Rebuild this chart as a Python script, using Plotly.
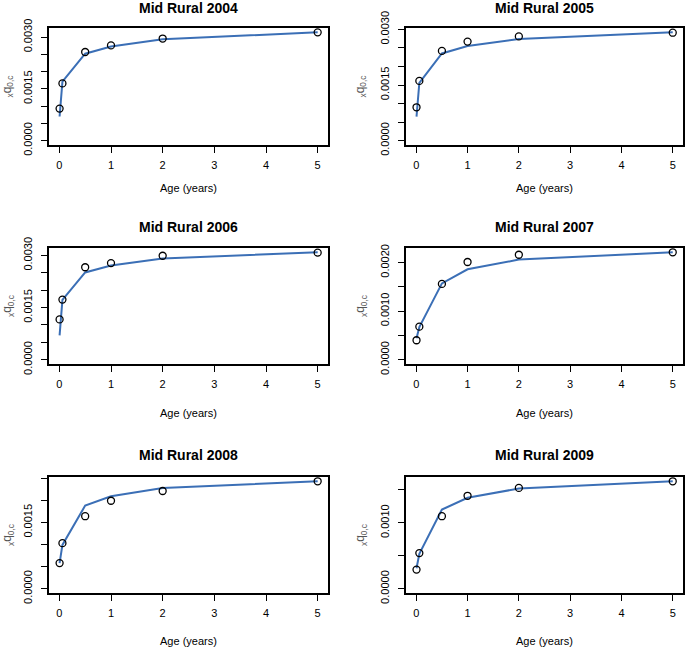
import plotly.graph_objects as go

# ---- data ----
years = ["2004", "2005", "2006", "2007", "2008", "2009"]
age = [0.005, 0.06, 0.5, 1, 2, 5]

obs_2004 = [0.00093, 0.00166, 0.00257, 0.00276, 0.00296, 0.00314]
fit_2004 = [0.00070, 0.00171, 0.00252, 0.00273, 0.00294, 0.00314]
obs_2005 = [0.00090, 0.00161, 0.00242, 0.00267, 0.00281, 0.00291]
fit_2005 = [0.00065, 0.00156, 0.00235, 0.00255, 0.00274, 0.00292]
obs_2006 = [0.00116, 0.00173, 0.00266, 0.00278, 0.00299, 0.00308]
fit_2006 = [0.00070, 0.00172, 0.00251, 0.00271, 0.00291, 0.00309]
obs_2007 = [0.00040, 0.00068, 0.00156, 0.00201, 0.00216, 0.00221]
fit_2007 = [0.00044, 0.00067, 0.00157, 0.00186, 0.00206, 0.00221]
obs_2008 = [0.00058, 0.00103, 0.00164, 0.00199, 0.00221, 0.00243]
fit_2008 = [0.00058, 0.00099, 0.00188, 0.00209, 0.00228, 0.00243]
obs_2009 = [0.00029, 0.00054, 0.00110, 0.00141, 0.00153, 0.00163]
fit_2009 = [0.00031, 0.00053, 0.00120, 0.00138, 0.00152, 0.00163]

observed = [obs_2004, obs_2005, obs_2006, obs_2007, obs_2008, obs_2009]
fitted = [fit_2004, fit_2005, fit_2006, fit_2007, fit_2008, fit_2009]

x_tickvals = [0, 1, 2, 3, 4, 5]
# all tick marks on each y axis
y_ticks_all = [
    [0, 0.0005, 0.0010, 0.0015, 0.0020, 0.0025, 0.0030],
    [0, 0.0005, 0.0010, 0.0015, 0.0020, 0.0025, 0.0030],
    [0, 0.0005, 0.0010, 0.0015, 0.0020, 0.0025, 0.0030],
    [0, 0.0005, 0.0010, 0.0015, 0.0020],
    [0, 0.0005, 0.0010, 0.0015, 0.0020, 0.0025],
    [0, 0.0005, 0.0010, 0.0015],
]
# the ticks that carry a label
y_ticks_labelled = [
    [0, 0.0015, 0.0030],
    [0, 0.0015, 0.0030],
    [0, 0.0015, 0.0030],
    [0, 0.0010, 0.0020],
    [0, 0.0015],
    [0, 0.0010],
]

# ---- layout geometry (pixels) ----
W, H = 685, 648
col_px = [(49, 328), (406, 683)]
row_px = [(28, 145), (248, 364), (477, 593)]
title_y = [8, 227, 455]
xlab_y = [188, 413, 641]
ylab_x = [8, 361]

FONT = "Liberation Sans, Arial, Helvetica, sans-serif"
LINE_COLOR = "#3b6fb6"

fig = go.Figure()
annotations = []

for i, yr in enumerate(years):
    r, c = divmod(i, 2)
    n = i + 1
    xa = "x" if n == 1 else f"x{n}"
    ya = "y" if n == 1 else f"y{n}"
    fig.add_trace(go.Scatter(
        x=age, y=fitted[i], xaxis=xa, yaxis=ya, mode="lines",
        line=dict(color=LINE_COLOR, width=2), showlegend=False, hoverinfo="skip",
        cliponaxis=False))
    fig.add_trace(go.Scatter(
        x=age, y=observed[i], xaxis=xa, yaxis=ya, mode="markers",
        marker=dict(symbol="circle-open", size=7, color="black", line=dict(width=1.3, color="black")),
        showlegend=False, cliponaxis=False))

    M = max(max(observed[i]), max(fitted[i]))
    x0, x1 = col_px[c]
    y0, y1 = row_px[r]
    axis_common = dict(showgrid=False, zeroline=False, showline=True, mirror=True,
                       linecolor="black", linewidth=1.5, ticks="outside", ticklen=6,
                       tickwidth=1.2, tickcolor="black", automargin=False,
                       tickfont=dict(family=FONT, size=11, color="black"))
    fig.layout[f"xaxis{n if n > 1 else ''}"] = dict(
        domain=[x0 / W, x1 / W], anchor=ya, range=[-0.2, 5.2], ticklabelstandoff=3,
        tickvals=x_tickvals, ticktext=[str(v) for v in x_tickvals], **axis_common)
    minor_vals = [v for v in y_ticks_all[i] if v not in y_ticks_labelled[i]]
    fig.layout[f"yaxis{n if n > 1 else ''}"] = dict(
        domain=[1 - y1 / H, 1 - y0 / H], anchor=xa, range=[-0.04 * M, 1.04 * M],
        ticklabelstandoff=5,
        tickvals=y_ticks_labelled[i], ticktext=[f"{v:.4f}" for v in y_ticks_labelled[i]],
        tickangle=-90,
        minor=dict(tickvals=minor_vals, ticks="outside", ticklen=6, tickwidth=1.2,
                   tickcolor="black", showgrid=False),
        **axis_common)

    annotations.append(dict(
        text=f"<b>Mid Rural {yr}</b>", x=(x0 + x1) / 2 / W, y=1 - title_y[r] / H,
        xref="paper", yref="paper", xanchor="center", yanchor="middle", showarrow=False,
        font=dict(family=FONT, size=14, color="black")))
    annotations.append(dict(
        text="Age (years)", x=(x0 + x1) / 2 / W, y=1 - xlab_y[r] / H,
        xref="paper", yref="paper", xanchor="center", yanchor="middle", showarrow=False,
        font=dict(family=FONT, size=11, color="black")))
    annotations.append(dict(
        text="<sub>x</sub>q<sub>0,c</sub>", x=ylab_x[c] / W, y=1 - (y0 + y1) / 2 / H,
        xref="paper", yref="paper", xanchor="center", yanchor="middle", showarrow=False,
        textangle=-90, font=dict(family=FONT, size=12, color="#555555")))

fig.update_layout(
    width=W, height=H, margin=dict(l=0, r=0, t=0, b=0),
    paper_bgcolor="white", plot_bgcolor="white",
    annotations=annotations, showlegend=False)

fig.write_html("out.html", config={"displayModeBar": False},
               post_script="document.body.style.margin='0';")
